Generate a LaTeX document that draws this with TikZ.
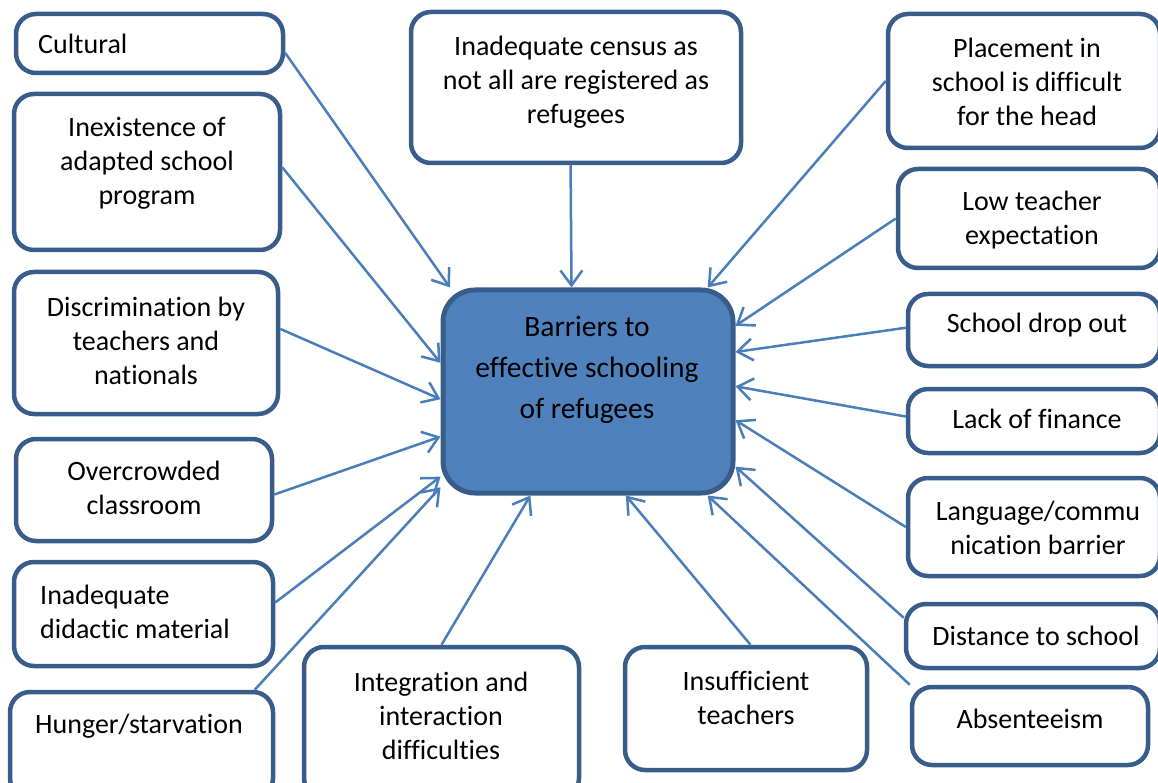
\documentclass[tikz,border=0pt]{standalone}
\usepackage{fontspec}
\setmainfont{Carlito}[Ligatures=CommonOff]
\usepackage{tikz}
\usetikzlibrary{arrows.meta,positioning}
\definecolor{frameblue}{HTML}{385D8A}
\definecolor{hubblue}{HTML}{4F81BD}
\definecolor{linkblue}{HTML}{4A7EBB}

\begin{document}
\begin{tikzpicture}[x=1pt, y=-1pt,
    cause/.style={draw=frameblue, line width=4.5pt, rounded corners=20pt, fill=white, inner sep=0pt},
    txt/.style={align=center, inner sep=0pt, font=\fontsize{28}{34}\selectfont},
    link/.style={draw=linkblue, line width=2.5pt, -{Straight Barb[length=15pt,width=22pt]}}]
    \useasboundingbox (0,0) rectangle (1158,783);
    \clip (0,0) rectangle (1158,783);

    % central box
    \node [draw=frameblue, fill=hubblue, line width=5pt, rounded corners=32pt, minimum width=290pt, minimum height=203pt] (hub) at (588,391.5) {};
    \node [txt, font=\fontsize{29.5}{41}\selectfont] (hubT) at (587,370) {Barriers to\\effective schooling\\of refugees};

    % left column
    \node [cause, minimum width=267pt, minimum height=59pt] (cultural) at (149.5,43.5) {};
    \node [txt, anchor=west] (culturalT) at (38,44) {Cultural};
    \node [cause, minimum width=266pt, minimum height=156pt] (inexist) at (147,172) {};
    \node [txt] (inexistT) at (147,163) {Inexistence of\\adapted school\\program};
    \node [cause, minimum width=264pt, minimum height=142pt] (discrim) at (146,343) {};
    \node [txt] (discrimT) at (146,341) {Discrimination by\\teachers and\\nationals};
    \node [cause, minimum width=256pt, minimum height=102pt] (crowd) at (144,490) {};
    \node [txt] (crowdT) at (144,488) {Overcrowded\\classroom};
    \node [cause, minimum width=259pt, minimum height=104pt] (didactic) at (143.5,614) {};
    \node [txt, align=left, anchor=west] (didacticT) at (40,612) {Inadequate\\didactic material};
    \node [cause, minimum width=263pt, minimum height=106pt] (hunger) at (141.5,745) {};
    \node [txt] (hungerT) at (139,726) {Hunger/starvation};

    % bottom row
    \node [cause, minimum width=275pt, minimum height=151pt] (integr) at (441.5,722.5) {};
    \node [txt] (integrT) at (441,716) {Integration and\\interaction\\difficulties};
    \node [cause, minimum width=242pt, minimum height=123pt] (insuff) at (746,708.5) {};
    \node [txt] (insuffT) at (746,698) {Insufficient\\teachers};

    % top box
    \node [cause, minimum width=330pt, minimum height=151pt] (census) at (576,87.5) {};
    \node [txt] (censusT) at (576,82) {Inadequate census as\\not all are registered as\\refugees};

    % right column
    \node [cause, minimum width=272pt, minimum height=134pt] (placement) at (1024,81) {};
    \node [txt] (placementT) at (1027,82) {Placement in\\school is difficult\\for the head};
    \node [cause, minimum width=262pt, minimum height=99pt] (lowteach) at (1029,218.5) {};
    \node [txt] (lowteachT) at (1032,220) {Low teacher\\expectation};
    \node [cause, minimum width=252pt, minimum height=72pt] (dropout) at (1034,330) {};
    \node [txt] (dropoutT) at (1037,325) {School drop out};
    \node [cause, minimum width=252pt, minimum height=64pt] (finance) at (1034,421) {};
    \node [txt] (financeT) at (1037,419) {Lack of finance};
    \node [cause, minimum width=252pt, minimum height=98pt] (language) at (1034,527) {};
    \node [txt] (languageT) at (1038,528) {Language/commu\\nication barrier};
    \node [cause, minimum width=254pt, minimum height=64pt] (distance) at (1033,636) {};
    \node [txt] (distanceT) at (1036,636) {Distance to school};
    \node [cause, minimum width=236pt, minimum height=78pt] (absent) at (1030,726) {};
    \node [txt] (absentT) at (1030,719) {Absenteeism};

    % arrows into the central box
    \draw [link] (cultural.356) -- (hub.143);
    \draw [link] (inexist.2) -- (hub.169);
    \draw [link] (discrim.6) -- (hub.183);
    \draw [link] (crowd.358) -- (hub.197);
    \draw [link] (didactic.5) -- (hub.210);
    \draw [link] (hunger.26) -- (hub.213);
    \draw [link] (integr.north) -- (hub.241);
    \draw [link] (insuff.86) -- (hub.290);
    \draw [link] (census.266) -- (hub.99);
    \draw [link] (placement.west) -- (hub.41);
    \draw [link] (lowteach.west) -- (hub.24);
    \draw [link] (dropout.179) -- (hub.15);
    \draw [link] (finance.178) -- (hub.2);
    \draw [link] (language.west) -- (hub.349);
    \draw [link] (distance.172) -- (hub.333);
    \draw [link] (absent.north west) -- (hub.319);
\end{tikzpicture}
\end{document}
